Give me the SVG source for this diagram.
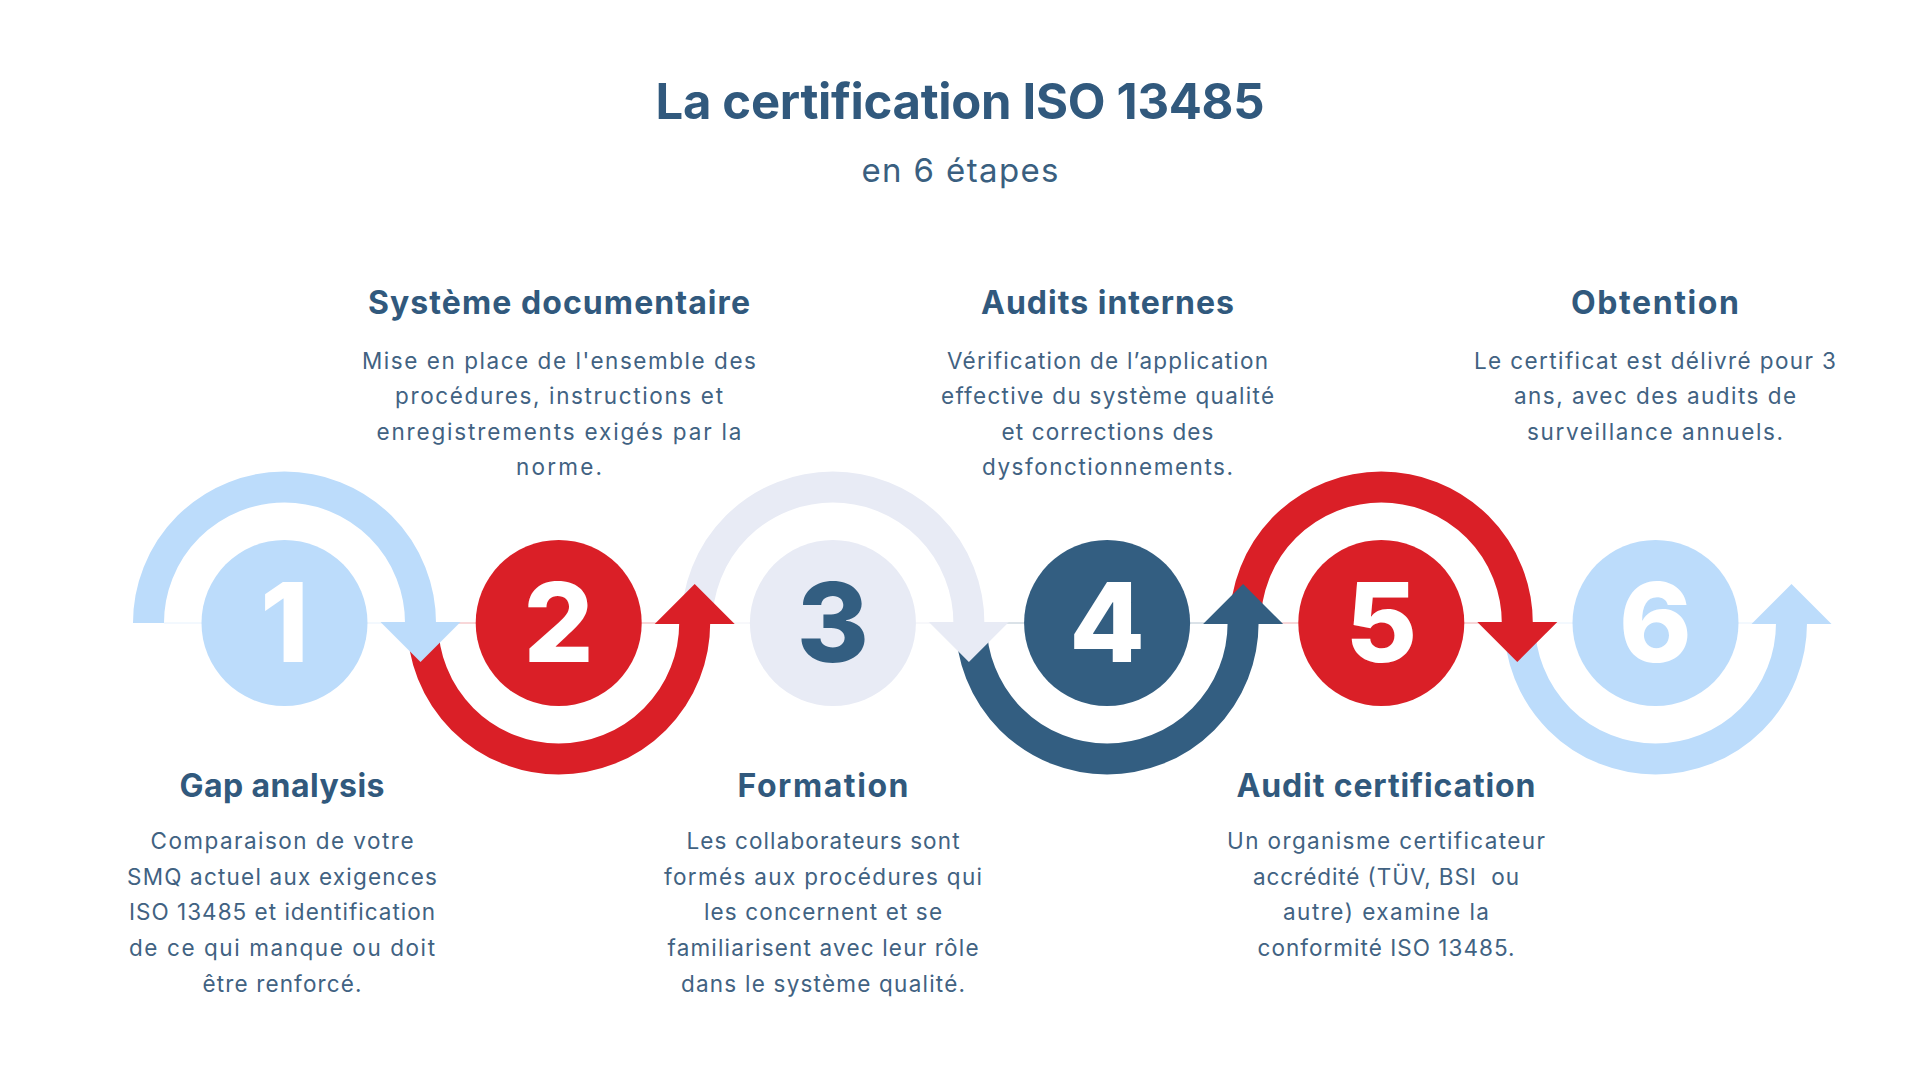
<svg xmlns="http://www.w3.org/2000/svg" width="1920" height="1080" viewBox="0 0 1920 1080">
  <style>
    .title { font-family: Inter, "Open Sans", sans-serif; font-weight: 700; font-size: 49px; fill: #31597d; text-anchor: middle; }
    .sub { font-family: Inter, "Open Sans", sans-serif; font-weight: 400; font-size: 33px; fill: #3a5f80; text-anchor: middle; }
    .head { font-family: Inter, "Open Sans", sans-serif; font-weight: 700; font-size: 32px; fill: #31597d; text-anchor: middle; }
    .body { font-family: Inter, "Open Sans", sans-serif; font-weight: 400; font-size: 22.5px; fill: #416282; text-anchor: middle; }
    .digit { font-family: Inter, "Open Sans", sans-serif; font-weight: 800; font-size: 110px; text-anchor: middle; }
    .arc { fill: none; stroke-width: 31; stroke-linecap: butt; }
    .seam { stroke-width: 1; opacity: 0.35; }
    .lb { stroke: #bcdcfb; }
    .rd { stroke: #da1f27; }
    .db { stroke: #335e81; }
    .lv { stroke: #e8ebf5; }
  </style>
  <defs>
    <marker id="mLb" markerUnits="userSpaceOnUse" viewBox="-2 -42 44 84" refX="1" refY="0" markerWidth="44" markerHeight="84" orient="auto" overflow="visible">
      <path d="M0,-40 L40,0 L0,40 Z" fill="#bcdcfb"/>
    </marker>
    <marker id="mRd" markerUnits="userSpaceOnUse" viewBox="-2 -42 44 84" refX="1" refY="0" markerWidth="44" markerHeight="84" orient="auto" overflow="visible">
      <path d="M0,-40 L40,0 L0,40 Z" fill="#da1f27"/>
    </marker>
    <marker id="mDb" markerUnits="userSpaceOnUse" viewBox="-2 -42 44 84" refX="1" refY="0" markerWidth="44" markerHeight="84" orient="auto" overflow="visible">
      <path d="M0,-40 L40,0 L0,40 Z" fill="#335e81"/>
    </marker>
    <marker id="mLv" markerUnits="userSpaceOnUse" viewBox="-2 -42 44 84" refX="1" refY="0" markerWidth="44" markerHeight="84" orient="auto" overflow="visible">
      <path d="M0,-40 L40,0 L0,40 Z" fill="#e8ebf5"/>
    </marker>
  </defs>

  <rect width="1920" height="1080" fill="#ffffff"/>

  <g id="header">
    <text class="title" x="960" y="119" textLength="609" lengthAdjust="spacing">La certification ISO 13485</text>
    <text class="sub" x="960" y="182" textLength="197" lengthAdjust="spacing">en 6 étapes</text>
  </g>

  <g id="connectors">
    <g id="arc6">
      <line class="seam lb" x1="1535" y1="623" x2="1776" y2="623"/>
      <path class="arc lb" d="M1519.5,623 A136,136 0 0 0 1791.5,623" marker-end="url(#mLb)"/>
    </g>
    <g id="arc5">
      <line class="seam rd" x1="1261" y1="623" x2="1502" y2="623"/>
      <path class="arc rd" d="M1245.3,623 A136,136 0 0 1 1517.3,623" marker-end="url(#mRd)"/>
    </g>
    <g id="arc4">
      <line class="seam db" x1="987" y1="623" x2="1228" y2="623"/>
      <path class="arc db" d="M971.1,623 A136,136 0 0 0 1243.1,623" marker-end="url(#mDb)"/>
    </g>
    <g id="arc3">
      <line class="seam lv" x1="713" y1="623" x2="954" y2="623" style="opacity:0.6"/>
      <path class="arc lv" d="M696.9,623 A136,136 0 0 1 968.9,623" marker-end="url(#mLv)"/>
    </g>
    <g id="arc2">
      <line class="seam rd" x1="439" y1="623" x2="680" y2="623"/>
      <path class="arc rd" d="M422.7,623 A136,136 0 0 0 694.7,623" marker-end="url(#mRd)"/>
    </g>
    <g id="arc1">
      <line class="seam lb" x1="164" y1="623" x2="405" y2="623"/>
      <path class="arc lb" d="M148.5,623 A136,136 0 0 1 420.5,623" marker-end="url(#mLb)"/>
    </g>
  </g>

  <g id="step1">
    <circle cx="284.5" cy="623" r="83" fill="#bcdcfb"/>
    <text class="digit" x="284.5" y="662" fill="#ffffff">1</text>
    <text class="head" x="282" y="797" textLength="205" lengthAdjust="spacing">Gap analysis</text>
    <text class="body" x="282" y="849" textLength="263" lengthAdjust="spacing">Comparaison de votre</text>
    <text class="body" x="282" y="884.7" textLength="310" lengthAdjust="spacing">SMQ actuel aux exigences</text>
    <text class="body" x="282" y="920.4" textLength="306" lengthAdjust="spacing">ISO 13485 et identification</text>
    <text class="body" x="282" y="956" textLength="306" lengthAdjust="spacing">de ce qui manque ou doit</text>
    <text class="body" x="282" y="991.7" textLength="159" lengthAdjust="spacing">être renforcé.</text>
  </g>

  <g id="step2">
    <circle cx="558.7" cy="623" r="83" fill="#da1f27"/>
    <text class="digit" x="558.7" y="662" fill="#ffffff">2</text>
    <text class="head" x="559" y="314" textLength="382" lengthAdjust="spacing">Système documentaire</text>
    <text class="body" x="559" y="368.5" textLength="394" lengthAdjust="spacing">Mise en place de l'ensemble des</text>
    <text class="body" x="559" y="404" textLength="328" lengthAdjust="spacing">procédures, instructions et</text>
    <text class="body" x="559" y="439.5" textLength="365" lengthAdjust="spacing">enregistrements exigés par la</text>
    <text class="body" x="559" y="475" textLength="86" lengthAdjust="spacing">norme.</text>
  </g>

  <g id="step3">
    <circle cx="832.9" cy="623" r="83" fill="#e8ebf5"/>
    <text class="digit" x="832.9" y="662" fill="#335e81">3</text>
    <text class="head" x="823" y="797" textLength="171" lengthAdjust="spacing">Formation</text>
    <text class="body" x="823" y="849" textLength="273" lengthAdjust="spacing">Les collaborateurs sont</text>
    <text class="body" x="823" y="884.7" textLength="318" lengthAdjust="spacing">formés aux procédures qui</text>
    <text class="body" x="823" y="920.4" textLength="238" lengthAdjust="spacing">les concernent et se</text>
    <text class="body" x="823" y="956" textLength="311" lengthAdjust="spacing">familiarisent avec leur rôle</text>
    <text class="body" x="823" y="991.7" textLength="284" lengthAdjust="spacing">dans le système qualité.</text>
  </g>

  <g id="step4">
    <circle cx="1107.1" cy="623" r="83" fill="#335e81"/>
    <text class="digit" x="1107.1" y="662" fill="#ffffff">4</text>
    <text class="head" x="1107.5" y="314" textLength="253" lengthAdjust="spacing">Audits internes</text>
    <text class="body" x="1107.5" y="368.5" textLength="321" lengthAdjust="spacing">Vérification de l’application</text>
    <text class="body" x="1107.5" y="404" textLength="333" lengthAdjust="spacing">effective du système qualité</text>
    <text class="body" x="1107.5" y="439.5" textLength="212" lengthAdjust="spacing">et corrections des</text>
    <text class="body" x="1107.5" y="475" textLength="251" lengthAdjust="spacing">dysfonctionnements.</text>
  </g>

  <g id="step5">
    <circle cx="1381.3" cy="623" r="83" fill="#da1f27"/>
    <text class="digit" x="1381.3" y="662" fill="#ffffff">5</text>
    <text class="head" x="1386" y="797" textLength="299" lengthAdjust="spacing">Audit certification</text>
    <text class="body" x="1386" y="849" textLength="318" lengthAdjust="spacing">Un organisme certificateur</text>
    <text class="body" x="1386" y="884.7" textLength="266" lengthAdjust="spacing" xml:space="preserve">accrédité (TÜV, BSI  ou</text>
    <text class="body" x="1386" y="920.4" textLength="206" lengthAdjust="spacing">autre) examine la</text>
    <text class="body" x="1386" y="956" textLength="257" lengthAdjust="spacing">conformité ISO 13485.</text>
  </g>

  <g id="step6">
    <circle cx="1655.5" cy="623" r="83" fill="#bcdcfb"/>
    <text class="digit" x="1655.5" y="662" fill="#ffffff">6</text>
    <text class="head" x="1655" y="314" textLength="168" lengthAdjust="spacing">Obtention</text>
    <text class="body" x="1655" y="368.5" textLength="362" lengthAdjust="spacing">Le certificat est délivré pour 3</text>
    <text class="body" x="1655" y="404" textLength="282" lengthAdjust="spacing">ans, avec des audits de</text>
    <text class="body" x="1655" y="439.5" textLength="256" lengthAdjust="spacing">surveillance annuels.</text>
  </g>
</svg>
